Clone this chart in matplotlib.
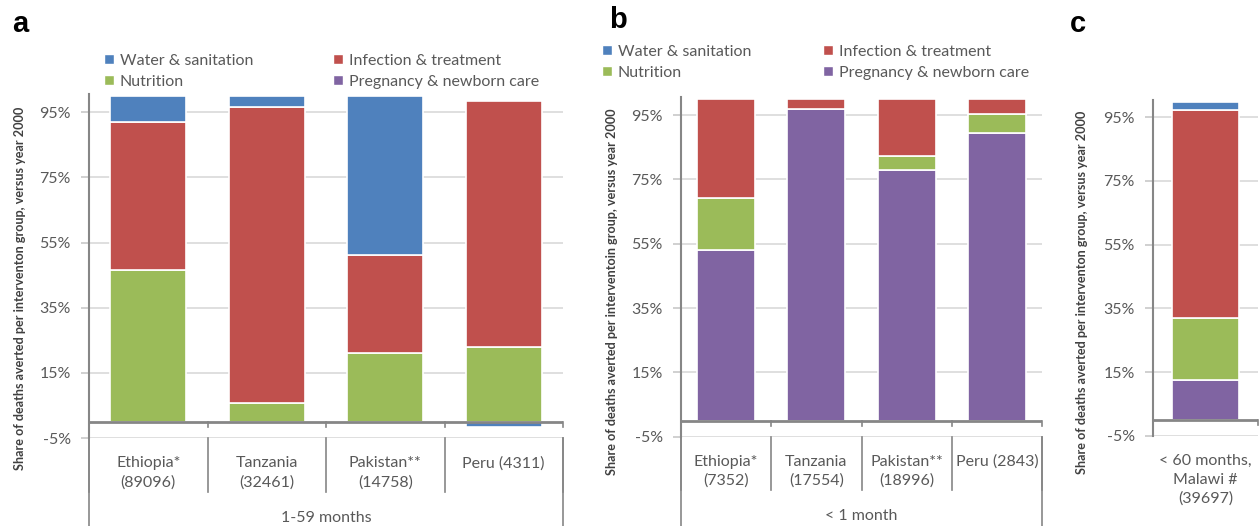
import numpy as np
import matplotlib.pyplot as plt
from matplotlib.patches import Patch

plt.rcParams['font.family'] = ['Lato', 'DejaVu Sans']

# intervention groups, stacked bottom to top
groups = ['Pregnancy & newborn care', 'Nutrition', 'Infection & treatment', 'Water & sanitation']
colors = {
    'Water & sanitation': '#4f81bd',
    'Infection & treatment': '#c0504d',
    'Nutrition': '#9bbb59',
    'Pregnancy & newborn care': '#8064a2',
}

# a: children 1-59 months
a_labels = ['Ethiopia*\n(89096)', 'Tanzania\n(32461)', 'Pakistan**\n(14758)', 'Peru (4311)']
a_pregnancy = [0, 0, 0, 0]
a_nutrition = [46.7, 5.6, 21.0, 22.9]
a_infection = [45.2, 90.9, 30.2, 75.7]
a_water = [8.1, 3.5, 48.8, -1.5]

# b: neonates < 1 month
b_labels = ['Ethiopia*\n(7352)', 'Tanzania\n(17554)', 'Pakistan**\n(18996)', 'Peru (2843)']
b_pregnancy = [53.2, 97.0, 77.8, 89.4]
b_nutrition = [16.1, 0, 4.6, 5.9]
b_infection = [30.7, 3.0, 17.6, 4.7]
b_water = [0, 0, 0, 0]

# c: under five, Malawi
c_labels = ['< 60 months,\nMalawi #\n(39697)']
c_pregnancy = [12.6]
c_nutrition = [19.3]
c_infection = [65.5]
c_water = [2.5]

yticks = [-5, 15, 35, 55, 75, 95]
axis_col = '#868686'
text_col = '#595959'

W, H = 1260, 526
fig = plt.figure(figsize=(W / 100, H / 100), dpi=100)


def px_axes(left, right, bottom, top):
    return fig.add_axes([left / W, 1 - bottom / H, (right - left) / W, (bottom - top) / H])


def stacked(ax, labels, series):
    x = np.arange(len(labels))
    pos = np.zeros(len(labels))
    neg = np.zeros(len(labels))
    for name in groups:
        vals = np.array(series[name], float)
        keep = vals != 0
        bottom = np.where(vals >= 0, pos, neg)
        ax.bar(x[keep], vals[keep], 0.64, bottom=bottom[keep], color=colors[name],
               edgecolor='white', linewidth=1.2, zorder=3)
        pos += np.clip(vals, 0, None)
        neg += np.clip(vals, None, 0)


def style(ax, labels, group_label=None, top=100.5):
    n = len(labels)
    ax.set_xlim(-0.5, n - 0.5)
    ax.set_ylim(-5, top)
    ax.set_yticks(yticks)
    ax.set_yticklabels([f'{v}%' for v in yticks])
    ax.yaxis.grid(True, color='#d9d9d9', linewidth=1.2, zorder=0)
    ax.set_axisbelow(True)
    for s in ['top', 'right', 'bottom']:
        ax.spines[s].set_visible(False)
    ax.spines['left'].set_color(axis_col)
    ax.spines['left'].set_linewidth(1.5)
    ax.tick_params(axis='y', length=6, width=1.2, color='#c8c8c8', labelsize=11.5,
                   labelcolor=text_col, pad=7)
    ax.set_xticks(np.arange(n))
    ax.set_xticklabels(labels, fontsize=11.5, color=text_col, linespacing=1.45)
    ax.tick_params(axis='x', length=0, pad=13)
    ax.axhline(0, color=axis_col, linewidth=2, zorder=4)
    bounds = np.arange(n + 1) - 0.5
    xt = ax.get_xaxis_transform()
    for b in bounds[1:]:
        ax.plot([b, b], [0, -1.6], color=axis_col, linewidth=1.2, zorder=4, clip_on=False)
    if group_label is not None:
        for b in bounds:
            ax.plot([b, b], [0, -0.157], color=axis_col, linewidth=1.2,
                    transform=xt, clip_on=False)
        for b in (bounds[0], bounds[-1]):
            ax.plot([b, b], [0, -0.27], color=axis_col, linewidth=1.2,
                    transform=xt, clip_on=False)
        ax.text((n - 1) / 2, -0.233, group_label, transform=xt, ha='center',
                va='center', fontsize=11.5, color=text_col)


axa = px_axes(89, 563, 438, 94.4)
stacked(axa, a_labels, {'Pregnancy & newborn care': a_pregnancy, 'Nutrition': a_nutrition,
                        'Infection & treatment': a_infection, 'Water & sanitation': a_water})
style(axa, a_labels, '1-59 months')

axb = px_axes(681, 1042, 436.7, 97.5)
stacked(axb, b_labels, {'Pregnancy & newborn care': b_pregnancy, 'Nutrition': b_nutrition,
                        'Infection & treatment': b_infection, 'Water & sanitation': b_water})
style(axb, b_labels, '< 1 month')

axc = px_axes(1153, 1258, 435.7, 99.8)
stacked(axc, c_labels, {'Pregnancy & newborn care': c_pregnancy, 'Nutrition': c_nutrition,
                        'Infection & treatment': c_infection, 'Water & sanitation': c_water})
style(axc, c_labels)

# y-axis titles
ylab = 'Share of deaths averted per interventon group, versus year 2000'
ylab_b = 'Share of deaths averted per interventoin group, versus year 2000'
for xpos, ypos, txt in [(20, 288, ylab), (612, 292, ylab_b), (1082, 292, ylab)]:
    fig.text(xpos / W, 1 - ypos / H, txt, rotation=90, ha='center', va='center',
             fontsize=9.1, fontweight='bold', color='#404040')

# panel letters
for xpos, ypos, letter in [(12, 24, 'a'), (609, 20, 'b'), (1070, 24, 'c')]:
    fig.text(xpos / W, 1 - ypos / H, letter, ha='left', va='center', fontsize=21,
             fontweight='bold', family='Liberation Sans', color='black')

# legends
order = ['Water & sanitation', 'Nutrition', 'Infection & treatment', 'Pregnancy & newborn care']
handles = [Patch(facecolor=colors[k], edgecolor='white') for k in order]
for xpos, ypos, spacing in [(104, 54, 5.0), (602, 45, 4.5)]:
    leg = fig.legend(handles, order, ncol=2, loc='upper left',
                     bbox_to_anchor=(xpos / W, 1 - ypos / H), frameon=False,
                     fontsize=11.5, handlelength=0.6, handleheight=0.6,
                     handletextpad=0.4, columnspacing=spacing, labelspacing=0.42,
                     borderaxespad=0, borderpad=0)
    for t in leg.get_texts():
        t.set_color(text_col)

fig.savefig('out.png', dpi=100)
